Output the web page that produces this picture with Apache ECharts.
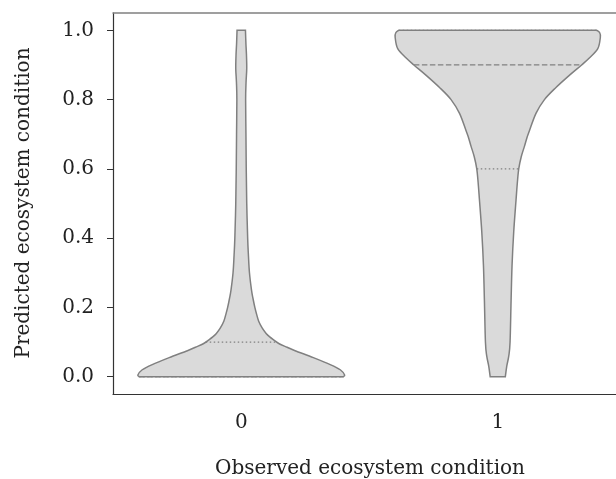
<!DOCTYPE html>
<html>
<head>
<meta charset="utf-8">
<title>Violin plot</title>
<script src="https://cdn.jsdelivr.net/npm/echarts@6/dist/echarts.min.js"></script>
<style>
  html, body { margin: 0; padding: 0; background: #fff; }
  #chart { width: 616px; height: 479px; }
</style>
</head>
<body>
<div id="chart"></div>
<script>
const categories = ['0', '1']
const yTicks = [0, 0.2, 0.4, 0.6, 0.8, 1.0]

// violin outlines: level on the y axis and half width (share of the category band)
const levels0 = [0, 0.005, 0.02, 0.035, 0.055, 0.075, 0.085, 0.095, 0.105, 0.115, 0.125, 0.14, 0.16, 0.18, 0.2, 0.225, 0.25, 0.3, 0.35, 0.4, 0.5, 0.6, 0.7, 0.8, 0.85, 0.89, 0.93, 0.96, 1.0]
const widths0 = [0.398, 0.403, 0.386, 0.347, 0.281, 0.210, 0.179, 0.148, 0.129, 0.111, 0.097, 0.082, 0.068, 0.060, 0.053, 0.046, 0.040, 0.032, 0.028, 0.025, 0.0214, 0.0195, 0.0183, 0.0171, 0.0187, 0.0214, 0.0203, 0.0183, 0.0164]
const levels1 = [0, 0.03, 0.06, 0.1, 0.22, 0.32, 0.42, 0.51, 0.56, 0.6, 0.635, 0.665, 0.69, 0.71, 0.76, 0.8, 0.835, 0.87, 0.9, 0.92, 0.947, 0.98, 0.993, 1.0]
const widths1 = [0.0296, 0.035, 0.043, 0.048, 0.052, 0.0557, 0.0624, 0.0713, 0.0764, 0.0818, 0.0916, 0.104, 0.1138, 0.1235, 0.149, 0.182, 0.227, 0.279, 0.327, 0.357, 0.39, 0.40, 0.3975, 0.386]

// quartiles drawn inside each violin
const q1 = [0.0, 0.6]
const medians = [0.0, 0.9]
const q3 = [0.1, 1.0]

const profiles = [
  { levels: levels0, widths: widths0 },
  { levels: levels1, widths: widths1 }
]

const FONT = 'DejaVu Serif'
const EDGE = '#808080'

function widthAt(p, v) {
  const ls = p.levels, ws = p.widths
  if (v <= ls[0]) return ws[0]
  for (let i = 1; i < ls.length; i++) {
    if (v <= ls[i]) {
      const t = (v - ls[i - 1]) / (ls[i] - ls[i - 1])
      return ws[i - 1] + t * (ws[i] - ws[i - 1])
    }
  }
  return ws[ws.length - 1]
}

// smooth side through the points (catmull-rom -> bezier), no move
function sidePath(pts) {
  let d = ''
  for (let i = 0; i < pts.length - 1; i++) {
    const p0 = pts[Math.max(i - 1, 0)]
    const p1 = pts[i]
    const p2 = pts[i + 1]
    const p3 = pts[Math.min(i + 2, pts.length - 1)]
    const c1x = p1[0] + (p2[0] - p0[0]) / 6
    const c1y = p1[1] + (p2[1] - p0[1]) / 6
    const c2x = p2[0] - (p3[0] - p1[0]) / 6
    const c2y = p2[1] - (p3[1] - p1[1]) / 6
    d += ' C' + c1x + ',' + c1y + ' ' + c2x + ',' + c2y + ' ' + p2[0] + ',' + p2[1]
  }
  return d
}

function renderViolin(params, api) {
  const idx = api.value(0)
  const p = profiles[idx]
  const cx = api.coord([idx, 0])[0]
  const band = api.size([1, 0])[0]
  const right = [], left = []
  for (let i = 0; i < p.levels.length; i++) {
    const y = api.coord([idx, p.levels[i]])[1]
    right.push([cx + p.widths[i] * band, y])
  }
  for (let i = p.levels.length - 1; i >= 0; i--) {
    const y = api.coord([idx, p.levels[i]])[1]
    left.push([cx - p.widths[i] * band, y])
  }
  const d = 'M' + right[0][0] + ',' + right[0][1] + sidePath(right) +
    ' L' + left[0][0] + ',' + left[0][1] + sidePath(left) + ' Z'
  const children = [{
    type: 'path',
    shape: { pathData: d },
    style: { fill: '#dadada', stroke: EDGE, lineWidth: 1.5 }
  }]
  const inner = [
    { v: q1[idx], dash: [1.5, 2.5] },
    { v: medians[idx], dash: [5.5, 2.5] },
    { v: q3[idx], dash: [1.5, 2.5] }
  ]
  inner.forEach(q => {
    const hw = widthAt(p, q.v) * band
    const y = api.coord([idx, q.v])[1]
    children.push({
      type: 'line',
      shape: { x1: cx - hw, y1: y, x2: cx + hw, y2: y },
      style: { stroke: EDGE, lineWidth: 1.2, lineDash: q.dash }
    })
  })
  return { type: 'group', children: children }
}

const chart = echarts.init(document.getElementById('chart'))
chart.setOption({
  animation: false,
  grid: { left: 113, top: 13, width: 513, height: 381, containLabel: false, outerBoundsMode: 'none' },
  xAxis: [{
    type: 'category',
    data: categories,
    boundaryGap: true,
    axisLine: { onZero: false, lineStyle: { color: '#333', width: 1.2 } },
    axisTick: { alignWithLabel: true, length: 6, lineStyle: { color: '#333' } },
    axisLabel: { fontFamily: FONT, fontSize: 20, color: '#222', margin: 19 },
    splitLine: { show: false }
  }, {
    type: 'category',
    data: categories,
    position: 'top',
    axisLine: { show: true, onZero: false, lineStyle: { color: '#808080', width: 1.5 } },
    axisTick: { show: false },
    axisLabel: { show: false },
    splitLine: { show: false }
  }],
  yAxis: {
    type: 'value',
    min: -0.05,
    max: 1.05,
    axisLine: { show: true, onZero: false, lineStyle: { color: '#333', width: 1.2 } },
    axisTick: { show: true, length: 6, customValues: yTicks, lineStyle: { color: '#333' } },
    axisLabel: {
      customValues: yTicks,
      formatter: v => v.toFixed(1),
      fontFamily: FONT, fontSize: 20, color: '#222', margin: 19
    },
    splitLine: { show: false }
  },
  graphic: [{
    type: 'text',
    x: 370, y: 469,
    style: { text: 'Observed ecosystem condition', font: '20px "DejaVu Serif"', fill: '#222', align: 'center', verticalAlign: 'middle' }
  }, {
    type: 'text',
    x: 24, y: 203,
    rotation: Math.PI / 2,
    style: { text: 'Predicted ecosystem condition', font: '20px "DejaVu Serif"', fill: '#222', align: 'center', verticalAlign: 'middle' }
  }],
  series: [{
    type: 'custom',
    renderItem: renderViolin,
    data: categories.map((c, i) => [i]),
    clip: false
  }]
})
</script>
</body>
</html>
